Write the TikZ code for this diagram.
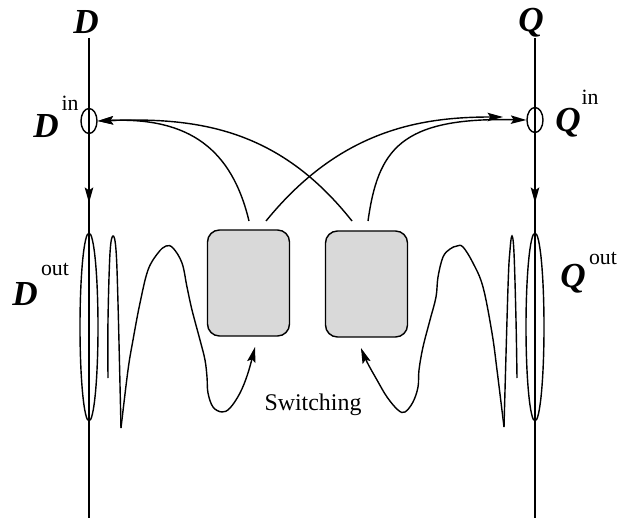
\documentclass[tikz,border=0pt]{standalone}
\usepackage{fontspec}
\setmainfont{Liberation Serif}
\usepackage{tikz}
\usetikzlibrary{arrows.meta,shapes.geometric}
\definecolor{BoxGray}{HTML}{D9D9D9}

\begin{document}
\begin{tikzpicture}[x=0.025cm, y=-0.025cm, >={Stealth[length=11pt, width=6pt, inset=2pt]},
    varlbl/.style={font=\fontsize{25}{28}\selectfont\bfseries\itshape, inner sep=0pt},
    suplbl/.style={font=\fontsize{15.5}{18}\selectfont, inner sep=0pt},
    port/.style={ellipse, draw, line width=1pt, inner sep=0pt},
    swbox/.style={draw, fill=BoxGray, line width=1pt, rounded corners=0.3cm,
        minimum width=2.05cm, minimum height=2.65cm},
    wire/.style={line width=1pt}]
    \useasboundingbox (0,0) rectangle (618,518);

    % Variable lines
    \coordinate (Dtop) at (89,38);
    \coordinate (Dbot) at (89,518);
    \coordinate (Qtop) at (535,38);
    \coordinate (Qbot) at (535,518);
    \draw[line width=1.5pt] (Dtop) -- (Dbot);
    \draw[line width=1.5pt] (Qtop) -- (Qbot);
    \node[varlbl] (Dlab) at (86,22) {D};
    \node[varlbl] (Qlab) at (531,23) {Q};

    % Input ports
    \node[port, minimum width=0.4cm, minimum height=0.625cm] (Din) at (89,121) {};
    \node[port, minimum width=0.4cm, minimum height=0.625cm] (Qin) at (535,120) {};
    \node[varlbl] (DinLab) at (46,126) {D};
    \node[suplbl] (DinSup) at (70,103) {in};
    \node[varlbl] (QinLab) at (568,123) {Q};
    \node[suplbl] (QinSup) at (590,97) {in};

    % Downward flow
    \coordinate (Dmid) at (89,203);
    \coordinate (Qmid) at (535,203);
    \draw[->, line width=1.5pt] (Din.south) -- (Dmid);
    \draw[->, line width=1.5pt] (Qin.south) -- (Qmid);

    % Output ports
    \node[port, minimum width=0.45cm, minimum height=4.7cm] (Dout) at (89,327) {};
    \node[port, minimum width=0.45cm, minimum height=4.7cm] (Qout) at (535,327) {};
    \node[varlbl] (DoutLab) at (25,294) {D};
    \node[suplbl] (DoutSup) at (55,269) {out};
    \node[varlbl] (QoutLab) at (573,279) {Q};
    \node[suplbl] (QoutSup) at (603,258) {out};

    % Switching boxes
    \node[swbox] (SwA) at (248.5,283) {};
    \node[swbox] (SwB) at (366.5,284) {};
    \coordinate (SwAl) at (249,221);
    \coordinate (SwAr) at (266,221);
    \coordinate (SwBl) at (352,221);
    \coordinate (SwBr) at (368,221);
    \coordinate (Qarr) at (503,117);

    % Feedback to the input ports
    \draw[->, wire] (SwAl) .. controls (232,150) and (190,117) .. (Din.east);
    \draw[->, wire] (SwBl) .. controls (280,130) and (200,117) .. (Din.east);
    \draw[->, wire] (SwAr) .. controls (340,130) and (420,117) .. (Qarr);
    \draw[->, wire] (SwBr) .. controls (378,150) and (400,117) .. (Qin.west);

    % Oscillating trajectories
    \draw[wire] plot[smooth, tension=0.6] coordinates {(108,378) (108,320) (110,253) (113,236) (116,250) (118,303) (121,428)};
    \draw[->, wire] plot[smooth, tension=0.6] coordinates {(121,428) (128,370) (133,340) (140,303) (148,270) (158,253) (166,246) (173,248) (182,263) (187,287) (192,310) (200,340) (205,360) (207,377) (208,393) (213,407) (222,412) (230,408) (240,393) (248,373) (255,347)};
    \draw[wire] plot[smooth, tension=0.6] coordinates {(517,378) (516,320) (514,253) (512,236) (510,250) (508,287) (504,427)};
    \draw[->, wire] plot[smooth, tension=0.6] coordinates {(504,427) (497,370) (492,333) (483,287) (473,263) (463,247) (457,246) (450,249) (443,257) (438,277) (436,297) (430,320) (423,347) (419,370) (418,387) (413,402) (405,412) (398,410) (387,397) (377,380) (367,362) (361,348)};

    % Label
    \node[font=\fontsize{17}{20}\selectfont, anchor=base] (SwLab) at (313,410) {Switching};

\end{tikzpicture}
\end{document}
